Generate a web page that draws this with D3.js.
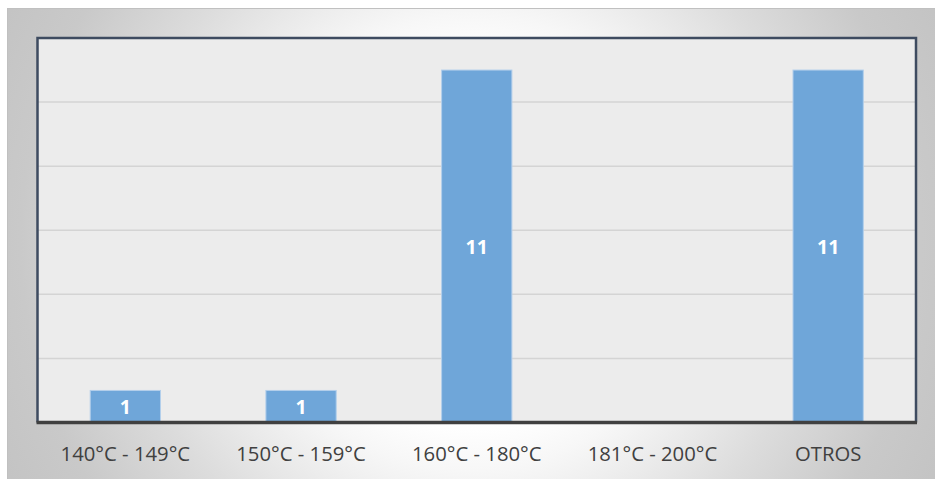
<!DOCTYPE html>
<html>
<head>
<meta charset="utf-8">
<script src="https://cdn.jsdelivr.net/npm/d3@7"></script>
<style>
  html, body { margin: 0; padding: 0; background: #ffffff; }
  svg { display: block; }
</style>
</head>
<body>
<svg id="chart" width="935" height="479"></svg>
<script>
// Temperature ranges and the count in each
const categories = ["140°C - 149°C", "150°C - 159°C", "160°C - 180°C", "181°C - 200°C", "OTROS"];
const counts = [1, 1, 11, null, 11];
const yTicks = [0, 2, 4, 6, 8, 10, 12];

const svg = d3.select("#chart");
const W = 935, H = 479;
const plot = { left: 37.5, right: 916, top: 38, bottom: 422.5 };

// Chart area background: soft radial shading from a white centre to grey edges
const defs = svg.append("defs");
const grad = defs.append("radialGradient")
  .attr("id", "bgGrad")
  .attr("gradientUnits", "userSpaceOnUse")
  .attr("cx", 471).attr("cy", 243).attr("r", 530);
[[0, "#ffffff"], [0.34, "#ffffff"], [0.43, "#f7f7f7"], [0.66, "#dcdcdc"], [0.85, "#c9c9c9"], [1, "#c3c3c3"]]
  .forEach(([o, c]) => grad.append("stop").attr("offset", o).attr("stop-color", c));

svg.append("rect")
  .attr("x", 7.5).attr("y", 8.5).attr("width", W - 7).attr("height", H - 8)
  .attr("fill", "url(#bgGrad)")
  .attr("stroke", "#c0c0c0").attr("stroke-width", 1);

// Scales
const x = d3.scaleBand()
  .domain(categories)
  .range([plot.left, plot.right])
  .paddingInner(0.6)
  .paddingOuter(0.3);
const y = d3.scaleLinear().domain([0, 12]).range([plot.bottom, plot.top]);

// Plot area fill
svg.append("rect")
  .attr("x", plot.left).attr("y", plot.top)
  .attr("width", plot.right - plot.left).attr("height", plot.bottom - plot.top)
  .attr("fill", "#ececec");

// Horizontal gridlines
svg.append("g")
  .selectAll("line")
  .data(yTicks.filter(t => t > 0 && t < 12))
  .join("line")
  .attr("x1", plot.left).attr("x2", plot.right)
  .attr("y1", d => y(d)).attr("y2", d => y(d))
  .attr("stroke", "#d4d4d4").attr("stroke-width", 1.5);

// Bars
const data = categories.map((c, i) => ({ cat: c, v: counts[i] })).filter(d => d.v != null);
svg.append("g")
  .selectAll("rect")
  .data(data)
  .join("rect")
  .attr("x", d => x(d.cat))
  .attr("y", d => y(d.v))
  .attr("width", x.bandwidth())
  .attr("height", d => y(0) - y(d.v))
  .attr("fill", "#6fa6d9")
  .attr("stroke", "#b3cfeb").attr("stroke-width", 1);

// Value labels inside the bars
svg.append("g")
  .selectAll("text")
  .data(data)
  .join("text")
  .attr("x", d => x(d.cat) + x.bandwidth() / 2)
  .attr("y", d => (y(d.v) + y(0)) / 2 + 8)
  .attr("text-anchor", "middle")
  .attr("font-family", "'Open Sans', sans-serif")
  .attr("font-weight", "bold")
  .attr("font-size", "19.5px")
  .attr("fill", "#ffffff")
  .text(d => d.v);

// Plot frame: left, top, right
svg.append("path")
  .attr("d", `M${plot.left},${plot.bottom} V${plot.top} H${plot.right} V${plot.bottom}`)
  .attr("fill", "none")
  .attr("stroke", "#3e4b60").attr("stroke-width", 2.5);

// Category axis
const xAxis = svg.append("g")
  .attr("transform", `translate(0,${plot.bottom})`)
  .call(d3.axisBottom(x).tickSize(0).tickPadding(0));
xAxis.select(".domain")
  .attr("d", `M${plot.left - 1},0 H${plot.right + 1}`)
  .attr("stroke", "#404040").attr("stroke-width", 3.5);
xAxis.selectAll(".tick text")
  .attr("y", 38.5)
  .attr("dy", 0)
  .attr("font-family", "'Open Sans', sans-serif")
  .attr("font-size", "20.3px")
  .attr("fill", "#404040");
</script>
</body>
</html>
